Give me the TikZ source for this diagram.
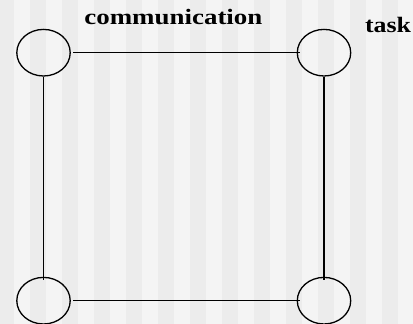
\documentclass[tikz,border=0pt]{standalone}
\usepackage{fontspec}
\usepackage{graphicx}
\setmainfont{Liberation Serif}
\usetikzlibrary{shapes.geometric}
\definecolor{bglight}{HTML}{F4F4F4}
\definecolor{bgdark}{HTML}{ECECEC}
\tikzset{
  vertex/.style={draw=black, line width=1.3pt, ellipse, inner sep=0pt,
    minimum width=53.4pt, minimum height=46.6pt},
  link/.style={draw=black, line width=1.3pt},
  lbl/.style={font=\fontsize{22}{24}\selectfont\bfseries, inner sep=0pt, anchor=base}
}
\begin{document}
\begin{tikzpicture}[x=1pt,y=-1pt]
\useasboundingbox (0,0) rectangle (413,324);
\fill[bglight] (0,0) rectangle (413,324);
\foreach \k in {0,...,12} {
  \fill[bgdark] ({-2+32*\k},0) rectangle ({14+32*\k},324);
}
\node[vertex] (tl) at (43.5,52.7) {};
\node[vertex] (tr) at (324,52.7) {};
\node[vertex] (bl) at (43.5,300.7) {};
\node[vertex] (br) at (324,300.7) {};
\draw[link] ([xshift=2.5pt]tl.east) -- ([xshift=3.5pt]tr.west);
\draw[link] ([xshift=2.5pt]bl.east) -- ([xshift=3.5pt]br.west);
\draw[link] (tl.south) -- ([yshift=-3.5pt]bl.north);
\draw[link] (tr.south) -- ([yshift=-3.5pt]br.north);
\node[lbl] (comm) at (173.4,24) {\resizebox{178pt}{\height}{communication}};
\node[lbl] (task) at (388,32.7) {\resizebox{46pt}{\height}{task}};
\end{tikzpicture}
\end{document}
